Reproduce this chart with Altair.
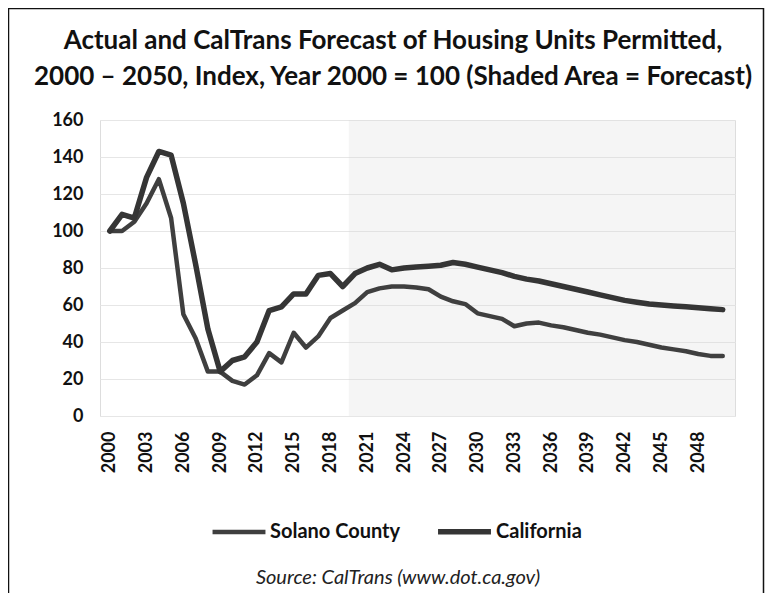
import altair as alt
import pandas as pd

years = list(range(2000, 2051))

solano = [100, 100, 105, 115, 128, 107, 55, 42, 24, 24,
          19, 17, 22, 34, 29, 45, 37, 43, 53, 57,
          61, 67, 69, 70, 70, 69.5, 68.5, 64.5, 62, 60.5,
          55.5, 54, 52.5, 48.5, 50, 50.5, 49, 48, 46.5, 45,
          44, 42.5, 41, 40, 38.5, 37, 36, 35, 33.5, 32.5, 32.5]

california = [100, 109, 107, 129, 143, 141, 115, 82, 47, 24,
              30, 32, 40, 57, 59, 66, 66, 76, 77, 70,
              77, 80, 82, 79, 80, 80.5, 81, 81.5, 83, 82,
              80.5, 79, 77.5, 75.5, 74, 73, 71.5, 70, 68.5, 67,
              65.5, 64, 62.5, 61.5, 60.5, 60, 59.5, 59, 58.5, 58, 57.5]

series_names = ["Solano County", "California"]
x_tick_years = list(range(2000, 2049, 3))
y_ticks = list(range(0, 161, 20))
forecast_start = [2019.5]
forecast_end = [2051]

title_line1 = ["Actual and CalTrans Forecast of Housing Units Permitted,"]
title_line2 = ["2000 \u2013 2050, Index, Year 2000 = 100 (Shaded Area = Forecast)"]
source_text = ["Source: CalTrans (www.dot.ca.gov)"]

df = pd.DataFrame({
    "year": years * 2,
    "value": solano + california,
    "series": [series_names[0]] * len(years) + [series_names[1]] * len(years),
})
shade_df = pd.DataFrame({"start": forecast_start, "end": forecast_end, "lo": [0], "hi": [160]})
frame_df = pd.DataFrame({"a": [0]})

W, H = 635, 296
FONT = "Lato"

xscale = alt.Scale(domain=[1999.2, 2051], nice=False, zero=False)
yscale = alt.Scale(domain=[0, 160], nice=False)

x_axis = alt.Axis(values=x_tick_years, format="d", labelAngle=270,
                  labelAlign="right", labelBaseline="middle",
                  labelFont=FONT, labelFontWeight="bold", labelFontSize=18,
                  labelColor="#111", labelPadding=15, ticks=False,
                  domain=False, grid=False, title=None, labelOverlap=False)
y_axis = alt.Axis(values=y_ticks, labelFont=FONT, labelFontWeight="bold",
                  labelFontSize=18, labelColor="#111", labelPadding=17,
                  ticks=False, domain=False, gridColor="#e6e6e6",
                  gridWidth=1, title=None, labelOverlap=False)

legend = alt.Legend(orient="none", legendX=110, legendY=382,
                    direction="horizontal", title=None,
                    symbolType="stroke", symbolSize=2800,
                    labelFont=FONT, labelFontWeight="bold", labelFontSize=20,
                    labelColor="#111", labelOffset=2, columnPadding=26)

shade = alt.Chart(shade_df).mark_rect(color="#d8d8d8", opacity=0.25).encode(
    x=alt.X("start:Q", scale=xscale, axis=x_axis),
    x2="end:Q",
    y=alt.Y("lo:Q", scale=yscale, axis=y_axis),
    y2="hi:Q",
)

lines = alt.Chart(df).mark_line(strokeJoin="round", strokeCap="round").encode(
    x=alt.X("year:Q", scale=xscale, axis=x_axis),
    y=alt.Y("value:Q", scale=yscale, axis=y_axis),
    color=alt.Color("series:N",
                    scale=alt.Scale(domain=series_names, range=["#3f3f3f", "#353535"]),
                    legend=legend),
    strokeWidth=alt.StrokeWidth("series:N",
                                scale=alt.Scale(domain=series_names, range=[4.5, 5.5]),
                                legend=legend),
    detail="series:N",
)


def text_layer(lines_list, y, **kw):
    return alt.Chart(pd.DataFrame({"t": lines_list})).mark_text(
        font=FONT, color="#111", align="center", baseline="middle", **kw
    ).encode(text="t:N", x=alt.value(293), y=alt.value(y))


title1 = text_layer(title_line1, -79, fontWeight="bold", fontSize=26)
title2 = text_layer(title_line2, -43, fontWeight="bold", fontSize=26)
source = alt.Chart(pd.DataFrame({"t": source_text})).mark_text(
    font=FONT, fontStyle="italic", fontSize=20, color="#222",
    align="center", baseline="middle").encode(text="t:N", x=alt.value(298), y=alt.value(458))

frame = alt.Chart(frame_df).mark_rect(fill=None, stroke="#111", strokeWidth=1.5).encode(
    x=alt.value(-91.5), x2=alt.value(663.5), y=alt.value(-111.5), y2=alt.value(520))

chart = alt.layer(shade, lines, title1, title2, source, frame).properties(
    width=W, height=H,
    autosize=alt.AutoSizeParams(type="none"),
    padding={"left": 92, "top": 112, "right": 35, "bottom": 177},
).configure_view(stroke=None).configure(background="white")

chart.save("out.html", embed_options={"renderer": "svg", "actions": False})
